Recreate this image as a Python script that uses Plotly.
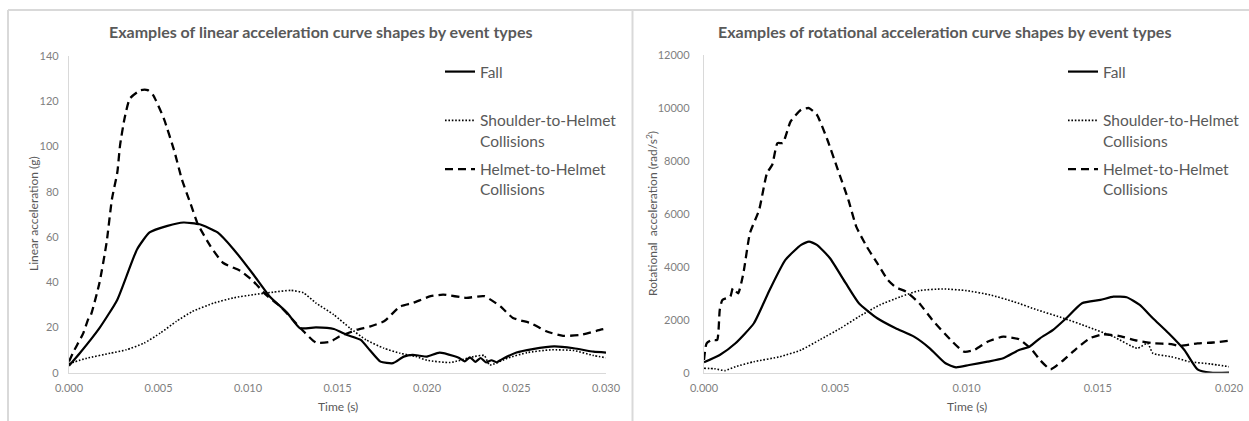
import plotly.graph_objects as go

W, H = 1249, 421

# ---------------- data: linear acceleration (g) ----------------
lin_fall_t = [0, 0.0006, 0.0017, 0.0027, 0.0038, 0.0045, 0.0055, 0.0064, 0.0073, 0.0083, 0.0092,
              0.0103, 0.0112, 0.0122, 0.0129, 0.0138, 0.0148, 0.0155, 0.0163, 0.0168, 0.0174,
              0.0181, 0.0187, 0.0192, 0.0196, 0.0200, 0.0207, 0.0215, 0.0218, 0.0221, 0.0224,
              0.0227, 0.0230, 0.0233, 0.0236, 0.0239, 0.0242, 0.0250, 0.0259, 0.0271, 0.0282,
              0.0293, 0.0300]
lin_fall_v = [3.1, 8.6, 19.7, 32.3, 54.5, 62, 64.9, 66.4, 65.6, 62, 54.5,
              43.4, 33.8, 26.4, 19.7, 20, 19.3, 16.8, 14.5, 10, 4.9,
              4.2, 7.1, 7.9, 7.5, 7.1, 8.9, 7.4, 6.5, 5.0, 6.8,
              4.8, 6.5, 4.5, 5.5, 4.6, 6.0, 8.9, 10.4, 11.6, 10.8,
              9.3, 8.9]

lin_s2h_t = [0, 0.0010, 0.0023, 0.0032, 0.0042, 0.0051, 0.0060, 0.0069, 0.0081, 0.0092, 0.0103,
             0.0114, 0.0124, 0.0131, 0.0138, 0.0148, 0.0157, 0.0166, 0.0176, 0.0185, 0.0194,
             0.0200, 0.0213, 0.0226, 0.0232, 0.0235, 0.0245, 0.0256, 0.0269, 0.0282, 0.0293, 0.0300]
lin_s2h_v = [4, 6.4, 8.6, 10.1, 13.1, 17.5, 22.7, 27.1, 30.8, 33.1, 34.5,
             35.6, 36.4, 35.3, 30.8, 25.6, 19.7, 14.5, 10.8, 8.6, 7.1,
             5.5, 4.5, 7.1, 7.6, 3.4, 6.4, 8.9, 10.1, 9.8, 7.6, 6.6]

lin_h2h_t = [0, 0.0003, 0.0008, 0.0011, 0.0012, 0.0017, 0.0021, 0.0024, 0.0027, 0.00285, 0.0031,
             0.0034, 0.0040, 0.0044, 0.0047, 0.0053, 0.0059, 0.0063, 0.0068, 0.0072, 0.0079,
             0.0086, 0.0096, 0.0103, 0.0110, 0.0118, 0.0125, 0.0132, 0.0138, 0.0146, 0.0151,
             0.0161, 0.0168, 0.0176, 0.0185, 0.0192, 0.0202, 0.0209, 0.0222, 0.0232, 0.0241,
             0.0248, 0.0258, 0.0267, 0.0276, 0.0286, 0.0297, 0.0300]
lin_h2h_v = [5, 10, 17.5, 24.2, 25, 39.7, 57.5, 76.8, 88.6, 100.4, 112.3,
             121.2, 124.9, 124.9, 122.7, 112.3, 97.5, 85.6, 74.5, 65.6, 56,
             48.6, 44.9, 40.4, 34.5, 29.3, 23.4, 17.5, 13.3, 13.7, 16,
             19, 20.4, 22.7, 29.3, 30.8, 33.8, 34.5, 33.1, 33.8, 29.3,
             24.2, 21.9, 18.2, 16.3, 16.7, 19, 19.5]

# ---------------- data: rotational acceleration (rad/s^2) ----------------
rot_fall_t = [0, 0.0006, 0.0012, 0.0019, 0.0025, 0.0031, 0.0037, 0.0040, 0.0043, 0.0048, 0.0054,
              0.0059, 0.0066, 0.0073, 0.0080, 0.0086, 0.0092, 0.0096, 0.0101, 0.0108, 0.0114,
              0.0120, 0.0124, 0.0128, 0.0133, 0.0138, 0.0144, 0.0151, 0.0156, 0.0161, 0.0166,
              0.0171, 0.0177, 0.0183, 0.0188, 0.0193, 0.0200]
rot_fall_v = [393, 669, 1111, 1868, 3127, 4261, 4828, 4953, 4828, 4325, 3380,
              2624, 2057, 1679, 1361, 922, 355, 204, 291, 416, 544,
              858, 983, 1300, 1614, 2057, 2624, 2749, 2873, 2851, 2560,
              2057, 1490, 858, 128, 0, 0]

rot_s2h_t = [0, 0.0004, 0.0008, 0.0012, 0.0019, 0.0029, 0.0037, 0.0044, 0.0052, 0.0059, 0.0067,
             0.0075, 0.0082, 0.0091, 0.0100, 0.0109, 0.0118, 0.0127, 0.0137, 0.0146, 0.0156,
             0.0165, 0.0169, 0.0171, 0.0178, 0.0185, 0.0193, 0.0200]
rot_s2h_v = [166, 150, 80, 227, 416, 605, 858, 1236, 1679, 2117, 2560,
             2873, 3100, 3164, 3100, 2938, 2684, 2370, 2057, 1739, 1361,
             922, 1111, 733, 605, 416, 329, 227]

rot_h2h_t = [0, 0.0001, 0.0003, 0.0005, 0.0006, 0.0007, 0.0010, 0.0011, 0.0013, 0.0015, 0.00175,
             0.0021, 0.0024, 0.0026, 0.0028, 0.0030, 0.0033, 0.0037, 0.0040, 0.0043, 0.0047,
             0.0051, 0.0055, 0.0058, 0.0062, 0.0066, 0.0070, 0.0073, 0.0077, 0.0082, 0.0087,
             0.0094, 0.0099, 0.0103, 0.0108, 0.0114, 0.0120, 0.0125, 0.0128, 0.0132, 0.0137,
             0.0142, 0.0147, 0.0152, 0.0158, 0.0165, 0.0171, 0.0178, 0.0181, 0.0188, 0.0194, 0.0200]
rot_h2h_v = [480, 1111, 1236, 1236, 2370, 2749, 2873, 3190, 3000, 3758, 5270,
             6150, 7539, 7852, 8673, 8673, 9490, 9932, 9996, 9743, 8798,
             7663, 6529, 5520, 4764, 4136, 3505, 3229, 3062, 2624, 1992,
             1236, 794, 858, 1172, 1361, 1263, 858, 480, 128, 480,
             922, 1300, 1452, 1388, 1210, 1111, 1080, 1009, 1111, 1140, 1210]

series_names = ["Fall<br> ", "Shoulder-to-Helmet<br>Collisions", "Helmet-to-Helmet<br>Collisions"]
titles = ["Examples of linear acceleration curve shapes by event types",
          "Examples of rotational acceleration curve shapes by event types"]
y_titles = ["Linear acceleration (g)", "Rotational  acceleration (rad/s<sup>2</sup>)"]
x_title = "Time (s)"
lin_x_ticks = [0, 0.005, 0.010, 0.015, 0.020, 0.025, 0.030]
lin_y_ticks = [0, 20, 40, 60, 80, 100, 120, 140]
rot_x_ticks = [0, 0.005, 0.010, 0.015, 0.020]
rot_y_ticks = [0, 2000, 4000, 6000, 8000, 10000, 12000]

FONT = "Lato"
TXT = "#595959"
TICK = "#7f7f7f"
AX = "#d9d9d9"

styles = [dict(color="black", width=2.2, dash="solid", shape="spline", smoothing=0.5),
          dict(color="black", width=1.6, dash="1.6px,1.8px", shape="spline", smoothing=0.5),
          dict(color="black", width=2.3, dash="8px,5px", shape="spline", smoothing=0.5)]

def px(x):
    return x / W

def py(y):
    return 1 - y / H

fig = go.Figure()
lin = [(lin_fall_t, lin_fall_v), (lin_s2h_t, lin_s2h_v), (lin_h2h_t, lin_h2h_v)]
rot = [(rot_fall_t, rot_fall_v), (rot_s2h_t, rot_s2h_v), (rot_h2h_t, rot_h2h_v)]
for i, (t, v) in enumerate(lin):
    fig.add_trace(go.Scatter(x=t, y=v, mode="lines", name=series_names[i], line=styles[i],
                             xaxis="x", yaxis="y", legend="legend", legendgroup="L%d" % i))
for i, (t, v) in enumerate(rot):
    fig.add_trace(go.Scatter(x=t, y=v, mode="lines", name=series_names[i], line=styles[i],
                             xaxis="x2", yaxis="y2", legend="legend2", legendgroup="R%d" % i))

axis_common = dict(showgrid=False, zeroline=False, showline=True, linecolor=AX, linewidth=1.3,
                   ticks="", tickfont=dict(family=FONT, size=11, color=TICK), fixedrange=True,
                   automargin=False)

legend_common = dict(xanchor="left", yanchor="top", valign="top", traceorder="grouped",
                     font=dict(family=FONT, size=15.5, color=TXT), bgcolor="rgba(0,0,0,0)",
                     tracegroupgap=5.5, itemwidth=30)

fig.update_layout(
    width=W, height=H, autosize=False,
    margin=dict(l=0, r=0, t=0, b=0),
    paper_bgcolor="white", plot_bgcolor="white",
    font=dict(family=FONT, color=TXT),
    xaxis=dict(domain=[px(69), px(606)], range=[0, 0.030], tickvals=lin_x_ticks,
               tickformat=".3f", anchor="y", ticklabelstandoff=5, **axis_common),
    yaxis=dict(domain=[py(372.7), py(56)], range=[0, 140], tickvals=lin_y_ticks, anchor="x",
               ticklabelstandoff=7, **axis_common),
    xaxis2=dict(domain=[px(704), px(1229)], range=[0, 0.020], tickvals=rot_x_ticks,
                tickformat=".3f", anchor="y2", ticklabelstandoff=5, **axis_common),
    yaxis2=dict(domain=[py(372.7), py(55)], range=[0, 12000], tickvals=rot_y_ticks, anchor="x2",
                tickformat="d", ticklabelstandoff=11, **axis_common),
    legend=dict(x=px(440), y=py(55), **legend_common),
    legend2=dict(x=px(1063), y=py(55), **legend_common),
    showlegend=True,
)

# chart titles
for i, cx in enumerate([320, 944]):
    fig.add_annotation(text="<b>" + titles[i] + "</b>", x=px(cx), y=py(31), xref="paper",
                       yref="paper", xanchor="center", yanchor="middle", showarrow=False,
                       font=dict(family=FONT, size=16, color=TXT))

# axis titles
for cx in [337.5, 966.5]:
    fig.add_annotation(text=x_title, x=px(cx), y=py(406), xref="paper", yref="paper",
                       xanchor="center", yanchor="middle", showarrow=False,
                       font=dict(family=FONT, size=12, color=TXT))
for i, cx in enumerate([33, 652]):
    fig.add_annotation(text=y_titles[i], x=px(cx), y=py(214), xref="paper", yref="paper",
                       xanchor="center", yanchor="middle", showarrow=False, textangle=-90,
                       font=dict(family=FONT, size=12, color=TXT))

# chart frames
for (x0, y0, x1, y1) in [(8, 10, W, 10), (8, 10, 8, H), (632.5, 10, 632.5, H)]:
    fig.add_shape(type="line", xref="paper", yref="paper", x0=px(x0), y0=py(y0), x1=px(x1),
                  y1=py(y1), line=dict(color=AX, width=2))

fig.write_html("out.html",
               post_script="document.body.style.margin='0';document.body.style.padding='0';"
                           "document.documentElement.style.overflow='hidden';")
